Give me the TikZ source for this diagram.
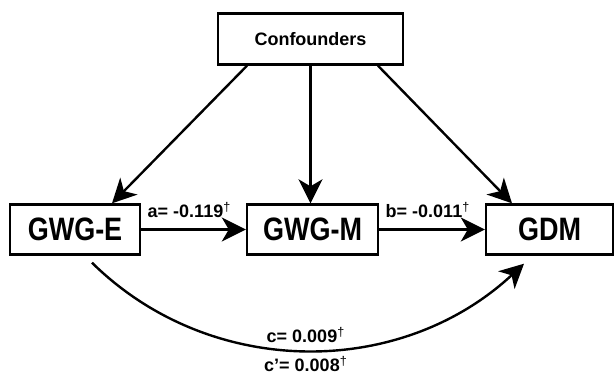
\documentclass[tikz,border=0pt]{standalone}
\usepackage{fontspec}
\usepackage{graphicx}
\setmainfont{Liberation Sans}
\usetikzlibrary{arrows.meta}

\tikzset{
  box/.style={draw, line width=2.4pt, inner sep=0pt, font=\fontsize{27}{30}\selectfont\bfseries},
  arr/.style={line width=2.4pt, -{Stealth[length=24pt,width=24pt,inset=7pt]}},
  lab/.style={font=\fontsize{18}{20}\selectfont\bfseries}
}
\newcommand{\dg}{\textsuperscript{\mdseries †}}
\newcommand{\tall}[1]{\scalebox{1}[1.2]{#1}}

\begin{document}
\begin{tikzpicture}[x=1pt,y=-1pt]
    \useasboundingbox (0,0) rectangle (615,376);
    \node[box, minimum width=185pt, minimum height=51pt, font=\fontsize{18}{20}\selectfont\bfseries] (conf) at (310.5,39) {Confounders};
    \node[box, minimum width=130pt, minimum height=50pt] (gwge) at (75,229.5) {\tall{GWG-E}};
    \node[box, minimum width=131pt, minimum height=50pt] (gwgm) at (312.5,229.5) {\tall{GWG-M}};
    \node[box, minimum width=127pt, minimum height=50pt] (gdm) at (549.5,229.5) {\tall{GDM}};
    \draw[arr] ([xshift=-63.5pt]conf.south) -- ([xshift=37pt]gwge.north);
    \draw[arr] (conf.south) -- (conf.south |- gwgm.north);
    \draw[arr] ([xshift=67.5pt]conf.south) -- ([xshift=-37.5pt]gdm.north);
    \draw[arr] (gwge.east) -- (gwgm.west) node[lab, pos=0, anchor=base west, xshift=2pt, yshift=12pt] {a= -0.119\dg};
    \draw[arr] (gwgm.east) -- (gdm.west) node[lab, pos=0, anchor=base west, xshift=2pt, yshift=12pt] {b= -0.011\dg};
    \draw[arr] ([xshift=17pt, yshift=-7pt]gwge.south) .. controls (210,379) and (400,379) .. ([xshift=-25.5pt, yshift=-8pt]gdm.south)
      node[lab, pos=0.5, above=3pt] {c= 0.009\dg}
      node[lab, pos=0.5, below=2pt] {c’= 0.008\dg};
  \end{tikzpicture}
\end{document}
